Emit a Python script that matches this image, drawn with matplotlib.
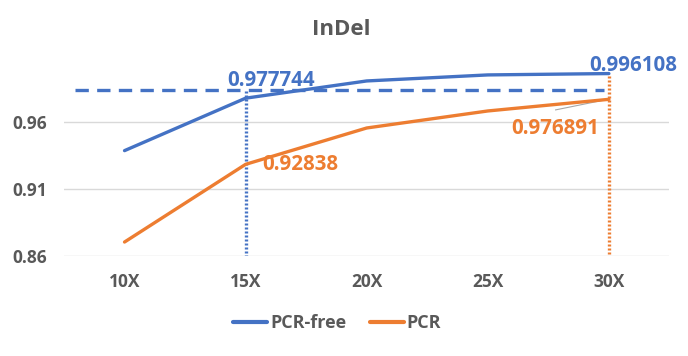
import matplotlib.pyplot as plt

# data
depth = ['10X', '15X', '20X', '25X', '30X']
pcr_free = [0.9386, 0.977744, 0.9906, 0.9951, 0.996108]
pcr = [0.8704, 0.92838, 0.9555, 0.9682, 0.976891]
drempel = 0.9839

blauw = '#4472C4'
oranje = '#ED7D31'
grijs = '#595959'

plt.rcParams['font.family'] = ['Open Sans', 'DejaVu Sans']

fig = plt.figure(figsize=(6.88, 3.56), dpi=100)
ax = fig.add_axes([0.093, 0.281, 0.880, 0.527])

x = list(range(len(depth)))
ax.plot(x, pcr_free, color=blauw, lw=2.4, label='PCR-free', solid_capstyle='round', zorder=3)
ax.plot(x, pcr, color=oranje, lw=2.4, label='PCR', solid_capstyle='round', zorder=3)

# drempellijn en verticale hulplijnen
ax.plot([-0.41, 3.96], [drempel, drempel], color=blauw, lw=2.4, ls=(0, (4, 2.5)), zorder=2)
ax.vlines(1, 0.8565, drempel, color=blauw, lw=2.4, ls=(0, (0.6, 0.6)), zorder=2)
ax.vlines(4, 0.8585, pcr_free[4], color=oranje, lw=2.4, ls=(0, (0.6, 0.6)), zorder=2)

# labels
fs = 14.8
ax.text(1.21, 0.9906, '%g' % pcr_free[1], color=blauw, fontsize=fs, fontweight='bold', ha='center', va='center')
ax.text(4.2, 1.0025, '%g' % pcr_free[4], color=blauw, fontsize=fs, fontweight='bold', ha='center', va='center', clip_on=False)
ax.text(1.45, 0.9279, '%g' % pcr[1], color=oranje, fontsize=fs, fontweight='bold', ha='center', va='center')
ax.text(3.56, 0.9548, '%g' % pcr[4], color=oranje, fontsize=fs, fontweight='bold', ha='center', va='center')
ax.plot([3.56, 3.97], [0.9690, 0.9765], color='#a6a6a6', lw=0.8, zorder=2)

ax.set_xlim(-0.5, 4.5)
ax.set_ylim(0.86, 1.0)
ax.set_yticks([0.86, 0.91, 0.96])
ax.set_yticklabels(['0.86', '0.91', '0.96'])
ax.set_xticks(x)
ax.set_xticklabels(depth)
ax.grid(axis='y', color='#d9d9d9', lw=1)
ax.set_axisbelow(True)
for s in ax.spines.values():
    s.set_visible(False)
ax.tick_params(length=0, colors=grijs, labelsize=12.5, pad=12)
for t in ax.get_xticklabels() + ax.get_yticklabels():
    t.set_fontweight('bold')

fig.text(0.496, 0.916, 'InDel', color=grijs, fontsize=16, fontweight='bold', ha='center', va='center')
leg = fig.legend(loc='center', bbox_to_anchor=(0.49, 0.093), ncol=2, frameon=False,
                 prop={'size': 13, 'weight': 'bold'}, labelcolor=grijs, handlelength=1.9,
                 handletextpad=0.15, columnspacing=1.3)
for h in leg.get_lines():
    h.set_linewidth(3)
    h.set_solid_capstyle('round')

fig.savefig('out.png', dpi=100)
